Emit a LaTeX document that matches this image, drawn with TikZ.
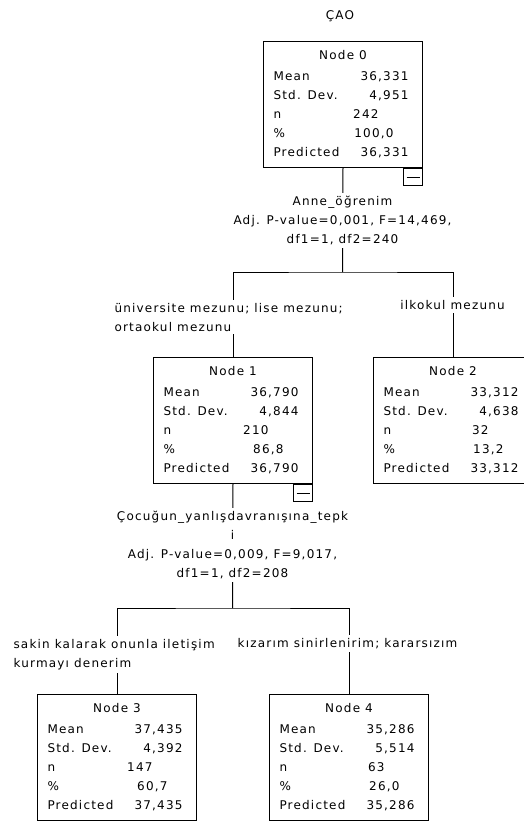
\documentclass[tikz,border=0pt]{standalone}
\usepackage{fontspec}
\newfontfamily\treefont[LetterSpace=10]{DejaVu Sans}

% one line of a tree box: label on the left, value pushed right (#3 = gap to the right edge)
\newcommand{\statrow}[3]{\makebox[159pt]{\hspace{10pt}#1\hfill#2\hspace{#3}}}
\newcommand{\boxtitle}[1]{\makebox[159pt]{#1}}

\begin{document}
\begin{tikzpicture}[
    x=1pt, y=-1pt,
    font={\treefont\fontsize{12}{19}\selectfont},
    line width=1pt,
    treebox/.style={draw, anchor=north west, inner sep=0pt, minimum width=159pt, minimum height=126pt, align=left},
    minusbox/.style={draw, anchor=north east, inner sep=0pt, minimum width=19pt, minimum height=17pt},
    splitlabel/.style={fill=white, inner xsep=1pt, inner ysep=3pt, align=center, anchor=north},
    catlabel/.style={fill=white, inner xsep=1pt, inner ysep=3pt, align=left}
  ]

  \useasboundingbox (0,0) rectangle (524,823);
  \clip (0,0) rectangle (524,823);

  % Title
  \node[anchor=base] (title) at (340,19.5) {ÇAO};

  % Boxes
  \node[treebox] (node0) at (263,41) {\boxtitle{Node 0}\\[2pt]
    \statrow{Mean}{36,331}{14pt}\\
    \statrow{Std. Dev.}{4,951}{14pt}\\
    \statrow{n}{242}{44pt}\\
    \statrow{\%}{100,0}{29pt}\\
    \statrow{Predicted}{36,331}{14pt}};
  \node[minusbox] (minus0) at (node0.south east) {\rule{13pt}{1pt}};

  \node[treebox] (node1) at (153,357) {\boxtitle{Node 1}\\[2pt]
    \statrow{Mean}{36,790}{14pt}\\
    \statrow{Std. Dev.}{4,844}{14pt}\\
    \statrow{n}{210}{44pt}\\
    \statrow{\%}{86,8}{29pt}\\
    \statrow{Predicted}{36,790}{14pt}};
  \node[minusbox] (minus1) at (node1.south east) {\rule{13pt}{1pt}};

  \node[treebox] (node2) at (373,357) {\boxtitle{Node 2}\\[2pt]
    \statrow{Mean}{33,312}{14pt}\\
    \statrow{Std. Dev.}{4,638}{14pt}\\
    \statrow{n}{32}{44pt}\\
    \statrow{\%}{13,2}{29pt}\\
    \statrow{Predicted}{33,312}{14pt}};

  \node[treebox] (node3) at (37,694) {\boxtitle{Node 3}\\[2pt]
    \statrow{Mean}{37,435}{14pt}\\
    \statrow{Std. Dev.}{4,392}{14pt}\\
    \statrow{n}{147}{44pt}\\
    \statrow{\%}{60,7}{29pt}\\
    \statrow{Predicted}{37,435}{14pt}};

  \node[treebox] (node4) at (269,694) {\boxtitle{Node 4}\\[2pt]
    \statrow{Mean}{35,286}{14pt}\\
    \statrow{Std. Dev.}{5,514}{14pt}\\
    \statrow{n}{63}{44pt}\\
    \statrow{\%}{26,0}{29pt}\\
    \statrow{Predicted}{35,286}{14pt}};

  % Connectors
  \coordinate (fork0) at (342.5,272);
  \coordinate (fork1) at (232.5,608);
  \draw (node0.south) -- (fork0);
  \draw (node1.north) |- (fork0) -| (node2.north);
  \draw (node1.south) -- (fork1);
  \draw (node3.north) |- (fork1) -| (node4.north);

  % Split and category labels (on top of the lines)
  \node[splitlabel] (split0) at (342.5,192.5) {Anne\_öğrenim\\Adj. P-value=0,001, F=14,469,\\df1=1, df2=240};
  \node[catlabel, anchor=north west] (cat1) at (113,299.4) {üniversite mezunu; lise mezunu;\\ortaokul mezunu};
  \node[catlabel, anchor=base] (cat2) at (452.5,309.5) {ilkokul mezunu};

  \node[splitlabel] (split1) at (232.5,507.4) {Çocuğun\_yanlışdavranışına\_tepk\\i\\Adj. P-value=0,009, F=9,017,\\df1=1, df2=208};
  \node[catlabel, anchor=north west] (cat3) at (12,635.4) {sakin kalarak onunla iletişim\\kurmayı denerim};
  \node[catlabel, anchor=base] (cat4) at (347.5,647.5) {kızarım sinirlenirim; kararsızım};

\end{tikzpicture}
\end{document}
